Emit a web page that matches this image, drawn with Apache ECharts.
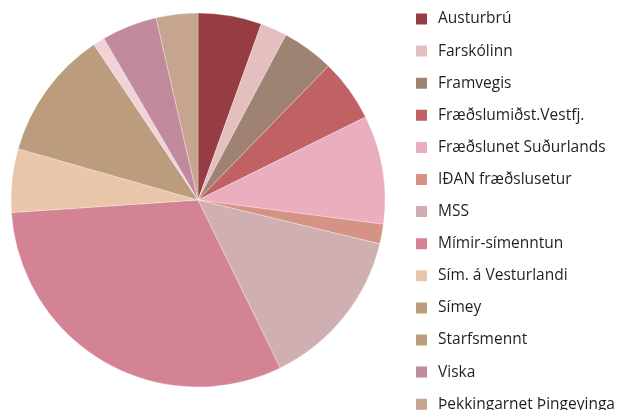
<!DOCTYPE html>
<html>
<head>
<meta charset="utf-8">
<script src="https://cdn.jsdelivr.net/npm/echarts@6/dist/echarts.min.js"></script>
<style>
html,body{margin:0;padding:0;background:#fff;}
#pie{width:626px;height:410px;}
</style>
</head>
<body>
<div id="pie"></div>
<script>
var names = ['Austurbrú','Farskólinn','Framvegis','Fræðslumiðst.Vestfj.','Fræðslunet Suðurlands','IÐAN fræðslusetur','MSS','Mímir-símenntun','Sím. á Vesturlandi','Símey','Starfsmennt','Viska','Þekkingarnet Þingeyinga'];
var values = [5.5, 2.3, 4.5, 5.4, 9.4, 1.7, 14.0, 31.2, 5.5, 11.2, 1.0, 4.8, 3.6];
var sliceColors = ['#963d43','#e4bfbf','#9e8373','#c06264','#ebaebf','#d59385','#cfafb1','#d48395','#e9c5a9','#bb9d7e','#f0d2d7','#c28b9d','#c5a590'];
var legendColors = ['#963d43','#e4bfbf','#9e8373','#c06264','#ebaebf','#d59385','#cfafb1','#d48395','#e9c5a9','#bb9d7e','#bb9d7e','#c28b9d','#c5a590'];

var pieChart = echarts.init(document.getElementById('pie'));
var option = {
    animation: false,
    legend: {
        orient: 'vertical',
        left: 409,
        top: 6,
        height: 405,
        itemWidth: 13,
        itemHeight: 13,
        itemGap: 16.1,
        icon: 'rect',
        textStyle: {fontFamily: 'Open Sans', fontSize: 15.5, color: '#231f20', lineHeight: 16, padding: [0, 0, 0, 5]},
        data: names.map(function(n, i){
            return {name: n, itemStyle: {color: legendColors[i]}};
        })
    },
    series: [{
        type: 'pie',
        center: [198, 200],
        radius: 187,
        startAngle: 90,
        clockwise: true,
        label: {show: false},
        labelLine: {show: false},
        itemStyle: {borderColor: '#fff', borderWidth: 0.3},
        data: names.map(function(n, i){
            return {name: n, value: values[i], itemStyle: {color: sliceColors[i]}};
        })
    }]
};
pieChart.setOption(option);
</script>
</body>
</html>
